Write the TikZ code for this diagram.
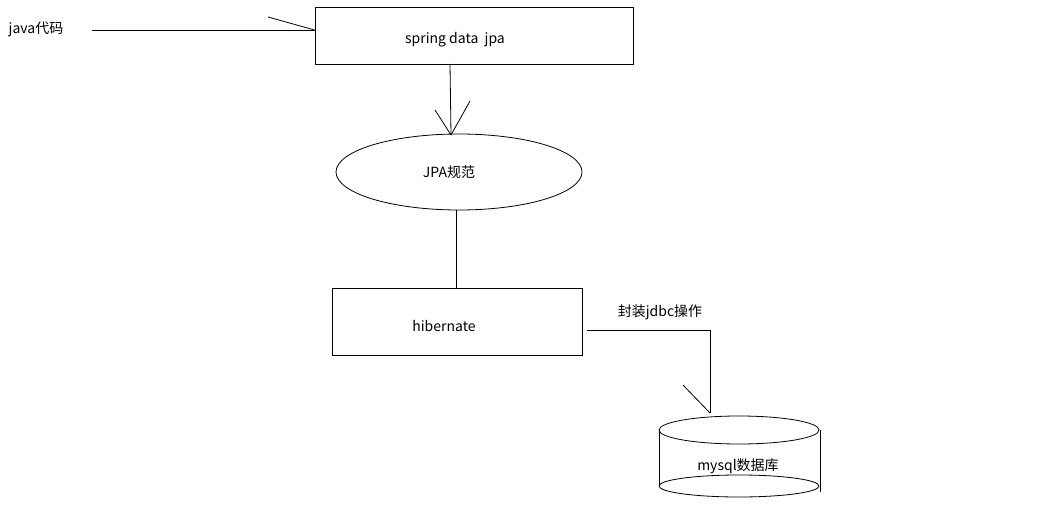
\documentclass[tikz,border=0pt]{standalone}
\usepackage{fontspec}
\setmainfont{Noto Sans CJK SC}
\usetikzlibrary{shapes.geometric}
\begin{document}
\begin{tikzpicture}[x=1pt,y=-1pt,line width=0.8pt,
  lbl/.style={font=\fontsize{14}{16}\selectfont,inner sep=0pt}]
\useasboundingbox (0,0) rectangle (1060,505);
\node[lbl] (java) at (36,29) {java代码};
\node[draw,minimum width=318pt,minimum height=57pt,inner sep=0pt] (spring) at (474,35.5) {};
\node[lbl] at (455,40) {spring data\ \ jpa};
\draw (92,30) -- (spring.west |- 0,30) coordinate (sa);
\draw (268,17) -- (sa);
\node[draw,ellipse,minimum width=246pt,minimum height=76pt,inner sep=0pt] (jpa) at (459,172) {};
\node[lbl] at (449,172) {JPA规范};
\coordinate (ja) at (451,135);
\draw (450,64) -- (ja);
\draw (435,110) -- (ja);
\draw (470,101) -- (ja);
\node[draw,minimum width=250pt,minimum height=67pt,inner sep=0pt] (hib) at (457,321.5) {};
\node[lbl] at (444,326) {hibernate};
\draw (456,210) -- (456,288);
\node[lbl] (jdbc) at (660,312) {封装jdbc操作};
\coordinate (da) at (710,413);
\draw (587,330) -- (710,330) -- (da);
\draw (683,385) -- (da);
\draw (659,430) -- (659,486);
\draw (820,430) -- (820,492);
\draw (739,430) ellipse (80 and 14);
\draw (739,486) ellipse (80 and 11);
\node[lbl] (db) at (738,466) {mysql数据库};
\end{tikzpicture}
\end{document}
